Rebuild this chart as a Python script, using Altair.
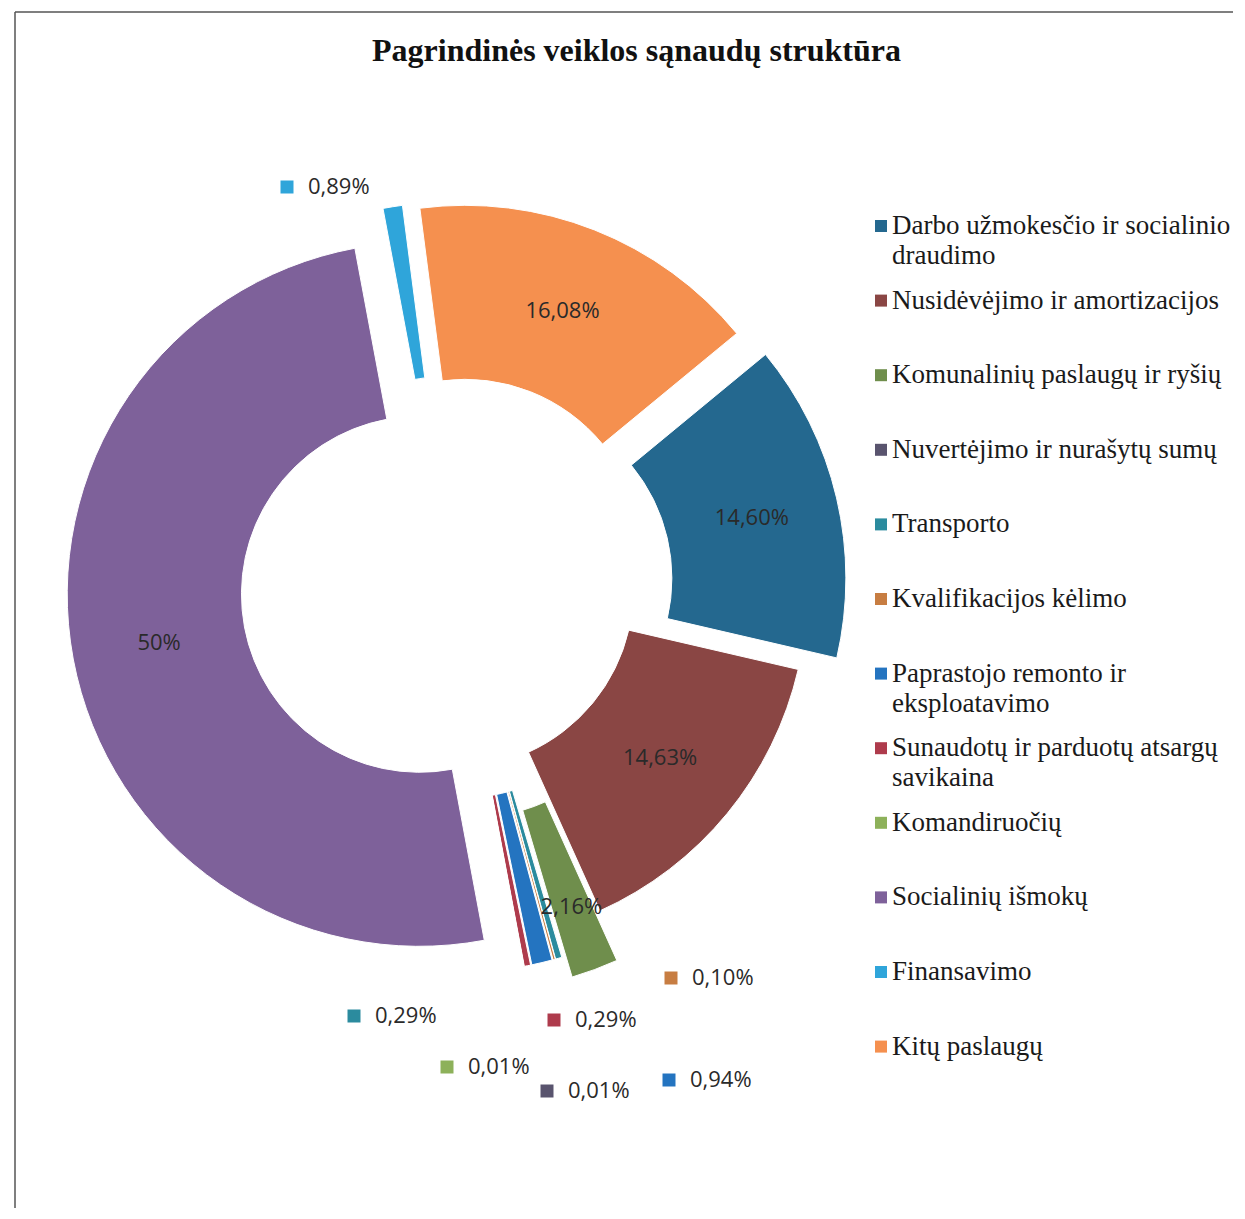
import math
import altair as alt
import pandas as pd

# ---------------- data ----------------
CATEGORIES = [
    "Darbo užmokesčio ir socialinio draudimo",
    "Nusidėvėjimo ir amortizacijos",
    "Komunalinių paslaugų ir ryšių",
    "Nuvertėjimo ir nurašytų sumų",
    "Transporto",
    "Kvalifikacijos kėlimo",
    "Paprastojo remonto ir eksploatavimo",
    "Sunaudotų ir parduotų atsargų savikaina",
    "Komandiruočių",
    "Socialinių išmokų",
    "Finansavimo",
    "Kitų paslaugų",
]
VALUES = [14.60, 14.63, 2.16, 0.01, 0.29, 0.10, 0.94, 0.29, 0.01, 50.0, 0.89, 16.08]
LABELS = ["14,60%", "14,63%", "2,16%", "0,01%", "0,29%", "0,10%", "0,94%",
          "0,29%", "0,01%", "50%", "0,89%", "16,08%"]
LEGEND_LINE1 = [
    "Darbo užmokesčio ir socialinio",
    "Nusidėvėjimo ir amortizacijos",
    "Komunalinių paslaugų ir ryšių",
    "Nuvertėjimo ir nurašytų sumų",
    "Transporto",
    "Kvalifikacijos kėlimo",
    "Paprastojo remonto ir",
    "Sunaudotų ir parduotų atsargų",
    "Komandiruočių",
    "Socialinių išmokų",
    "Finansavimo",
    "Kitų paslaugų",
]
LEGEND_LINE2 = ["draudimo", "", "", "", "", "", "eksploatavimo", "savikaina", "", "", "", ""]
TITLE = "Pagrindinės veiklos sąnaudų struktūra"

# ---------------- style / layout ----------------
COLORS = ["#24688F", "#8A4644", "#6F8E4C", "#59546E", "#2B8B9E", "#C77D42",
          "#2474C0", "#AE3B4C", "#8DB15A", "#7E619A", "#2FA5DA", "#F5904F"]
EXPLODE = [42, 3, 55, 33, 33, 33, 33, 33, 33, 34, 34, 33]   # px, per slice
LABEL_SHIFT = [0, 0, 20, 0, 0, 0, 0, 0, 0, 0, 0, 0]         # extra label radius, px
# manually placed outside labels (offset of the key square from the pie centre, px)
OUTSIDE = {3: (94, 503), 4: (-99, 428), 5: (218, 390), 6: (216, 492),
           7: (101, 432), 8: (-6, 479), 10: (-166, -401)}

W, H = 1225, 1200
CX, CY = 445, 580
R_OUT, R_IN = 352, 178
R_MID = (R_OUT + R_IN) / 2
START = math.radians(50.5)
LEG_SQ_X, LEG_TX, LEG_Y0, LEG_STEP, LEG_LH = 873, 884, 218, 74.6, 30

rows = []
for i, c in enumerate(CATEGORIES):
    ox, oy = OUTSIDE.get(i, (None, None))
    rows.append({
        "category": c, "value": VALUES[i], "label": LABELS[i], "idx": i,
        "explode": EXPLODE[i], "lshift": LABEL_SHIFT[i], "inside": i not in OUTSIDE,
        "ox": ox, "oy": oy,
        "line1": LEGEND_LINE1[i], "line2": LEGEND_LINE2[i],
    })
df = pd.DataFrame(rows)

xs = alt.Scale(domain=[0, W], range=[0, W], nice=False, zero=False)
ys = alt.Scale(domain=[0, H], range=[0, H], nice=False, zero=False)
color = alt.Color("category:N", scale=alt.Scale(domain=CATEGORIES, range=COLORS), legend=None)

base = alt.Chart(df).transform_window(
    cum="sum(value)", sort=[alt.SortField("idx")], frame=[None, 0]
).transform_joinaggregate(
    total="sum(value)"
).transform_calculate(
    t1=f"{START} + 2*PI*datum.cum/datum.total",
).transform_calculate(
    t0="datum.t1 - 2*PI*datum.value/datum.total",
).transform_calculate(
    mid="(datum.t0 + datum.t1)/2",
).transform_calculate(
    cx=f"{CX} + datum.explode*sin(datum.mid)",
    cy=f"{CY} - datum.explode*cos(datum.mid)",
).transform_calculate(
    lx=f"datum.cx + ({R_MID} + datum.lshift)*sin(datum.mid)",
    ly=f"datum.cy - ({R_MID} + datum.lshift)*cos(datum.mid)",
)

arcs = base.mark_arc(radius=R_OUT, radius2=R_IN, stroke="white", strokeWidth=1).encode(
    x=alt.X("cx:Q", scale=xs, axis=None),
    y=alt.Y("cy:Q", scale=ys, axis=None),
    theta=alt.Theta("t0:Q", scale=None, stack=False),
    theta2="t1:Q",
    color=color,
    order=alt.Order("idx:Q"),
)

inside_labels = base.transform_filter("datum.inside").mark_text(
    font="Open Sans", fontSize=22, color="#2a2a2a", align="center", baseline="middle"
).encode(x=alt.X("lx:Q", scale=xs), y=alt.Y("ly:Q", scale=ys), text="label:N")

out = base.transform_filter("!datum.inside").transform_calculate(
    sx=f"{CX} + datum.ox", sy=f"{CY} + datum.oy", tx=f"{CX} + datum.ox + 21"
)
out_squares = out.mark_square(size=169, opacity=1).encode(
    x=alt.X("sx:Q", scale=xs), y=alt.Y("sy:Q", scale=ys), color=color
)
out_text = out.mark_text(
    font="Open Sans", fontSize=22, color="#2a2a2a", align="left", baseline="middle"
).encode(x=alt.X("tx:Q", scale=xs), y=alt.Y("sy:Q", scale=ys), text="label:N")

leg = alt.Chart(df).transform_calculate(
    lgx=f"{LEG_SQ_X}", ltx=f"{LEG_TX}",
    lgy=f"{LEG_Y0} + datum.idx*{LEG_STEP}",
    lgy2=f"{LEG_Y0} + datum.idx*{LEG_STEP} + {LEG_LH}",
)
leg_sq = leg.mark_square(size=144, opacity=1).encode(
    x=alt.X("lgx:Q", scale=xs), y=alt.Y("lgy:Q", scale=ys), color=color
)
leg_t1 = leg.mark_text(
    font="Liberation Serif", fontSize=27, color="#1a1a1a", align="left", baseline="middle"
).encode(x=alt.X("ltx:Q", scale=xs), y=alt.Y("lgy:Q", scale=ys), text="line1:N")
leg_t2 = leg.transform_filter("datum.line2 != ''").mark_text(
    font="Liberation Serif", fontSize=27, color="#1a1a1a", align="left", baseline="middle"
).encode(x=alt.X("ltx:Q", scale=xs), y=alt.Y("lgy2:Q", scale=ys), text="line2:N")

one = pd.DataFrame({"a": [0]})
border_top = alt.Chart(one).mark_rule(color="#555555", strokeWidth=1.5).encode(
    x=alt.value(7), x2=alt.value(W), y=alt.value(4)
)
border_left = alt.Chart(one).mark_rule(color="#555555", strokeWidth=1.5).encode(
    x=alt.value(7), y=alt.value(4), y2=alt.value(H)
)

chart = alt.layer(
    border_top, border_left, arcs, inside_labels, out_squares, out_text, leg_sq, leg_t1, leg_t2
).properties(
    width=W, height=H,
    title=alt.TitleParams(
        TITLE, font="Liberation Serif", fontSize=32, fontWeight="bold", color="#111111",
        anchor="middle", frame="group", baseline="alphabetic", offset=0, dx=16, dy=85,
    ),
    autosize=alt.AutoSizeParams(type="none"),
    padding=0,
).configure_view(stroke=None)

chart.save("out.html", embed_options={"renderer": "svg", "actions": False})
